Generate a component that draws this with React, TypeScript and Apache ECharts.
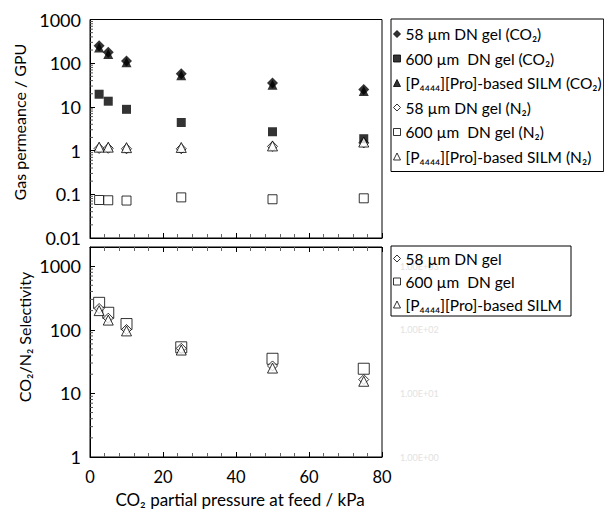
import React, { useEffect, useRef } from 'react';
import * as echarts from 'echarts';

// CO2 partial pressure at feed (kPa)
const pressure = [2.5, 5, 10, 25, 50, 75];

// Gas permeance (GPU)
const perm58CO2 = [250, 178, 113, 57, 35, 25];
const perm600CO2 = [19.5, 13.5, 8.8, 4.4, 2.7, 1.87];
const permSILMCO2 = [228, 162, 105, 53, 32, 23];
const perm58N2 = [1.12, 1.13, 1.1, 1.1, 1.25, 1.5];
const perm600N2 = [0.074, 0.073, 0.072, 0.085, 0.077, 0.081];
const permSILMN2 = [1.2, 1.2, 1.17, 1.18, 1.28, 1.57];

// CO2/N2 selectivity
const sel58 = [216, 152, 101, 51, 27, 16.5];
const sel600 = [265, 185, 123, 53, 35, 24.4];
const selSILM = [200, 142, 96, 48, 25, 15.5];

// x-axis tick labels
const xTickLabels = ['0', '20', '40', '60', '80'];

// log minor tick multipliers and decades
const minorMult = [2, 3, 4, 5, 6, 7, 8, 9];
const topDecades = [0.01, 0.1, 1, 10, 100];
const bottomDecades = [1, 10, 100, 1000];

const topNames = [
  '58 µm DN gel (CO₂)',
  '600 µm  DN gel (CO₂)',
  '[P₄₄₄₄][Pro]-based SILM (CO₂)',
  '58 µm DN gel (N₂)',
  '600 µm  DN gel (N₂)',
  '[P₄₄₄₄][Pro]-based SILM (N₂)',
];
const bottomNames = ['58 µm DN gel', '600 µm  DN gel', '[P₄₄₄₄][Pro]-based SILM'];

const FONT = 'Lato, "Liberation Sans", "DejaVu Sans", sans-serif';

const pairs = (ys: number[]) => pressure.map((x, i) => [x, ys[i]]);
const minorTicks = (decades: number[], maxV: number) => {
  const out: number[][] = [];
  decades.forEach((d) => minorMult.forEach((m) => { if (m * d < maxV) out.push([0, m * d]); }));
  return out;
};

const isPow10 = (v: number) => Math.abs(Math.log10(v) - Math.round(Math.log10(v))) < 1e-6;
const fmtLog = (v: number) => (isPow10(v) ? String(Number(v.toPrecision(6))) : '');

export default function App() {
  const ref = useRef<HTMLDivElement>(null);
  useEffect(() => {
    const chart = echarts.init(ref.current!, null, { renderer: 'svg' });
    const black = '#000';
    const open = { color: '#fff', borderColor: black, borderWidth: 1 };
    const filled = { color: black };
    const filledIcon = { color: black, borderColor: black, borderWidth: 1 };

    const xAxisBase = {
      type: 'value',
      min: 0,
      max: 80,
      interval: 20,
      axisLine: { show: true, lineStyle: { color: black, width: 1 } },
      axisTick: { show: true, inside: true, length: 5, lineStyle: { color: black } },
      minorTick: { show: true, splitNumber: 5, length: 4, lineStyle: { color: '#666' } },
      splitLine: { show: false },
    };

    const tickRender = (len: number) => (params: any, api: any) => {
      const p = api.coord([api.value(0), api.value(1)]);
      return {
        type: 'line',
        shape: { x1: p[0], y1: p[1], x2: p[0] + len, y2: p[1] },
        style: { stroke: '#555', lineWidth: 1 },
      };
    };

    const legendItems = (names: string[], icons: string[], styles: any[]) =>
      names.map((n, i) => ({ name: n, icon: icons[i], itemStyle: styles[i] }));

    const option: any = {
      animation: false,
      textStyle: { fontFamily: FONT },
      grid: [
        { left: 90, top: 19.5, width: 292, height: 218.5, show: true, borderColor: black, borderWidth: 1, backgroundColor: 'transparent' },
        { left: 90, top: 247, width: 292, height: 210, show: true, borderColor: black, borderWidth: 1, backgroundColor: 'transparent' },
      ],
      xAxis: [
        { ...xAxisBase, gridIndex: 0, axisLabel: { show: false } },
        {
          ...xAxisBase,
          gridIndex: 1,
          axisLabel: {
            show: true, color: black, fontSize: 16.5, fontFamily: FONT, margin: 11,
            formatter: (v: number) => xTickLabels[Math.round(v / 20)] ?? '',
          },
        },
        { ...xAxisBase, gridIndex: 1, position: 'top', axisLabel: { show: false } },
      ],
      yAxis: [
        {
          type: 'log', gridIndex: 0, min: 0.01, max: 1000, logBase: 10, splitNumber: 5,
          axisLine: { show: true, lineStyle: { color: black } },
          axisTick: { show: true, inside: true, length: 5, lineStyle: { color: black } },
          splitLine: { show: false },
          axisLabel: { color: black, fontSize: 18, fontFamily: FONT, margin: 9, formatter: fmtLog },
        },
        {
          type: 'log', gridIndex: 1, min: 1, max: 2000, logBase: 10, splitNumber: 3,
          axisLine: { show: true, lineStyle: { color: black } },
          axisTick: { show: true, inside: true, length: 5, lineStyle: { color: black } },
          splitLine: { show: false },
          axisLabel: { color: black, fontSize: 18, fontFamily: FONT, margin: 9, formatter: fmtLog, showMaxLabel: false },
        },
        {
          type: 'log', gridIndex: 1, min: 1, max: 2000, logBase: 10, splitNumber: 3, position: 'right',
          axisLine: { show: false }, axisTick: { show: false }, splitLine: { show: false },
          axisLabel: {
            color: '#e2e2e2', fontSize: 9, fontFamily: FONT, margin: 18,
            formatter: (v: number) => (isPow10(v) ? '1.00E+' + String(Math.round(Math.log10(v))).padStart(2, '0') : ''),
          },
          z: 0,
        },
      ],
      legend: [
        {
          data: legendItems(topNames, ['diamond', 'rect', 'triangle', 'diamond', 'rect', 'triangle'], [filledIcon, filledIcon, filledIcon, open, open, open]),
          orient: 'vertical', left: 391, top: 19,
          itemWidth: 7, itemHeight: 7, itemGap: 8.5,
          padding: [7, 2, 7, 2],
          borderColor: black, borderWidth: 1, backgroundColor: 'transparent',
          textStyle: { color: black, fontSize: 15.5, fontFamily: FONT },
          selectedMode: false,
        },
        {
          data: legendItems(bottomNames, ['diamond', 'rect', 'triangle'], [open, open, open]),
          orient: 'vertical', left: 391, top: 246,
          itemWidth: 7, itemHeight: 7, itemGap: 7,
          padding: [4.5, 9, 3.5, 2],
          borderColor: black, borderWidth: 1, backgroundColor: 'transparent',
          textStyle: { color: black, fontSize: 15.5, fontFamily: FONT },
          selectedMode: false,
        },
      ],
      graphic: [
        {
          type: 'text', x: 19, y: 122, rotation: Math.PI / 2,
          style: { text: 'Gas permeance / GPU', fill: black, font: `16px ${FONT}`, textAlign: 'center', textVerticalAlign: 'middle', align: 'center', verticalAlign: 'middle' },
        },
        {
          type: 'text', x: 24, y: 337, rotation: Math.PI / 2,
          style: { text: 'CO₂/N₂ Selectivity', fill: black, font: `16px ${FONT}`, textAlign: 'center', textVerticalAlign: 'middle', align: 'center', verticalAlign: 'middle' },
        },
        {
          type: 'text', x: 240, y: 499,
          style: { text: 'CO₂ partial pressure at feed / kPa', fill: black, font: `17px ${FONT}`, textAlign: 'center', textVerticalAlign: 'middle', align: 'center', verticalAlign: 'middle' },
        },
      ],
      series: [
        { type: 'custom', name: 'minorTop', xAxisIndex: 0, yAxisIndex: 0, silent: true, data: minorTicks(topDecades, 1000), renderItem: tickRender(3), z: 1 },
        { type: 'custom', name: 'minorBottom', xAxisIndex: 1, yAxisIndex: 1, silent: true, data: minorTicks(bottomDecades, 2000), renderItem: tickRender(3), z: 1 },

        { type: 'scatter', name: topNames[4], xAxisIndex: 0, yAxisIndex: 0, symbol: 'rect', symbolSize: 9, itemStyle: open, data: pairs(perm600N2), z: 2 },
        { type: 'scatter', name: topNames[3], xAxisIndex: 0, yAxisIndex: 0, symbol: 'diamond', symbolSize: 10, itemStyle: open, data: pairs(perm58N2), z: 3 },
        { type: 'scatter', name: topNames[1], xAxisIndex: 0, yAxisIndex: 0, symbol: 'rect', symbolSize: 9, itemStyle: filled, data: pairs(perm600CO2), z: 3 },
        { type: 'scatter', name: topNames[5], xAxisIndex: 0, yAxisIndex: 0, symbol: 'triangle', symbolSize: 10, itemStyle: open, data: pairs(permSILMN2), z: 4 },
        { type: 'scatter', name: topNames[0], xAxisIndex: 0, yAxisIndex: 0, symbol: 'diamond', symbolSize: 11, itemStyle: filled, data: pairs(perm58CO2), z: 4 },
        { type: 'scatter', name: topNames[2], xAxisIndex: 0, yAxisIndex: 0, symbol: 'triangle', symbolSize: 10, itemStyle: filled, data: pairs(permSILMCO2), z: 5 },

        { type: 'scatter', name: bottomNames[1], xAxisIndex: 1, yAxisIndex: 1, symbol: 'rect', symbolSize: 11, itemStyle: open, data: pairs(sel600), z: 2 },
        { type: 'scatter', name: bottomNames[0], xAxisIndex: 1, yAxisIndex: 1, symbol: 'diamond', symbolSize: 10, itemStyle: open, data: pairs(sel58), z: 3 },
        { type: 'scatter', name: bottomNames[2], xAxisIndex: 1, yAxisIndex: 1, symbol: 'triangle', symbolSize: 10, itemStyle: open, data: pairs(selSILM), z: 4 },
      ],
    };
    chart.setOption(option);
    return () => chart.dispose();
  }, []);
  return <div ref={ref} style={{ position: 'absolute', left: 0, top: 0, width: 604, height: 512 }} />;
}
